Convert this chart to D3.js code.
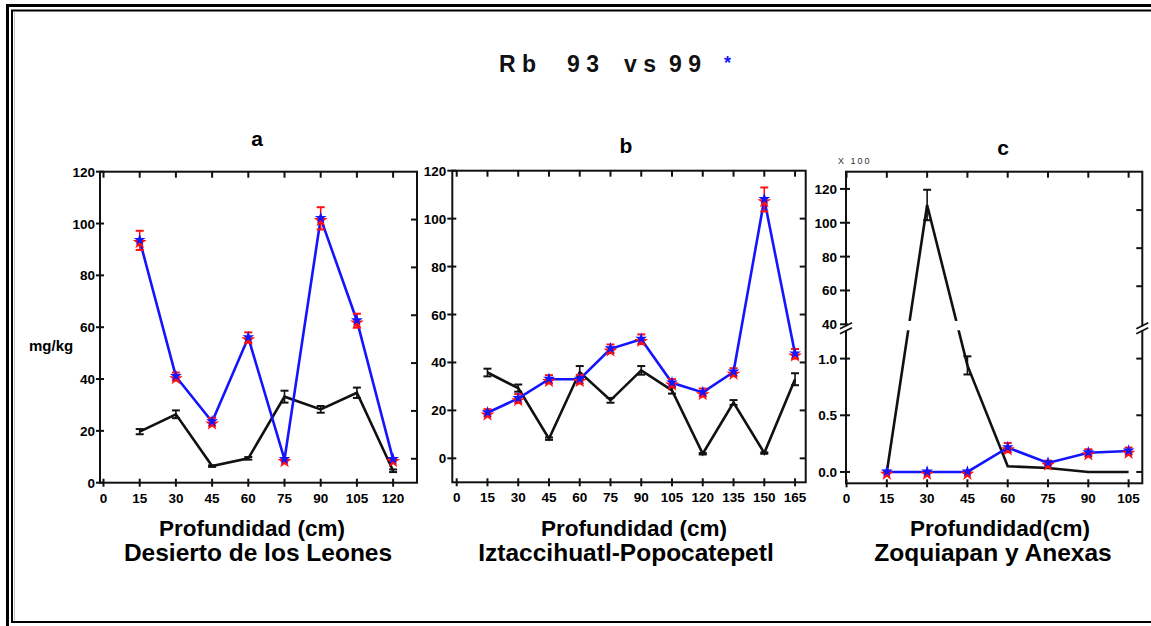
<!DOCTYPE html>
<html><head><meta charset="utf-8">
<script src="https://cdn.jsdelivr.net/npm/d3@7"></script>
<style>
body{margin:0;background:#fff}
svg{display:block}
text{font-family:"Liberation Sans",Arial,Helvetica,sans-serif}
.tick{font-family:"Liberation Sans Narrow","Arial Narrow","Liberation Sans",Arial,sans-serif;font-weight:bold;font-size:13.5px}
</style>
</head><body>
<svg id="fig" width="1151" height="626"></svg>
<script>
// ---- data: Rb (mg/kg) by depth, 1993 (black) and 1999 (blue *) ----
const depthA = [15, 30, 45, 60, 75, 90, 105, 120];
const a99 = [93.5, 41, 23.5, 56, 9, 102, 62.5, 9];
const a99Err = [3.7, 1.5, 1.5, 2, 0.5, 4.3, 2.7, 0.3];
const a93 = [19.7, 26.4, 6.4, 9.4, 33.2, 28.3, 34.7, 4.6];
const a93Err = [1, 1.5, 0.3, 0.5, 2.3, 1.3, 2, 0.5];

const depthB = [15, 30, 45, 60, 75, 90, 105, 120, 135, 150, 165];
const b99 = [19, 25, 33, 33, 45.7, 49.7, 31.5, 27.5, 36, 108, 43.6];
const b99Err = [1.5, 1.8, 1.7, 1.8, 1.8, 2, 1.5, 1.6, 1.6, 5, 2];
const b93 = [35.8, 29.3, 8.2, 36, 24.2, 36.7, 28.3, 1.9, 23.3, 2.2, 33];
const b93Err = [1.6, 1.5, 0.5, 2.5, 1, 1.8, 1.3, 0.3, 1, 0.3, 2.5];

const depthC = [15, 30, 45, 60, 75, 90, 105];
const c99 = [0, 0, 0, 0.215, 0.08, 0.17, 0.185];
const c99Err = [0.01, 0, 0.01, 0.04, 0.02, 0.03, 0.03];
const c93 = [0, 110.5, 0.94, 0.05, 0.035, 0, 0];
const c93Err = [0, 9, 0.08, 0, 0, 0, 0];

const ticksA = [0, 15, 30, 45, 60, 75, 90, 105, 120];
const ticksB = [0, 15, 30, 45, 60, 75, 90, 105, 120, 135, 150, 165];
const ticksC = [0, 15, 30, 45, 60, 75, 90, 105];
const yTicksAB = [0, 20, 40, 60, 80, 100, 120];
const yTicksCUpper = [40, 60, 80, 100, 120];
const yTicksCLower = [0, 0.5, 1.0];
const yTicksCUpperRight = [62.5, 85, 107.5];

const svg = d3.select("#fig");
const BLUE = "#1414ff", RED = "#ff1010", BLACK = "#111";

// double frame
svg.append("rect").attr("x", 7.5).attr("y", 5.5).attr("width", 1160).attr("height", 640)
  .attr("fill", "none").attr("stroke", "#000").attr("stroke-width", 3);
svg.append("rect").attr("x", 12).attr("y", 10.5).attr("width", 1150).attr("height", 611.5)
  .attr("fill", "none").attr("stroke", "#000").attr("stroke-width", 2);
svg.append("line").attr("x1", 14.5).attr("x2", 14.5).attr("y1", 12).attr("y2", 621)
  .attr("stroke", "#c8c8c8").attr("stroke-width", 1);

// title
const title = svg.append("g").attr("font-weight", "bold").attr("font-size", 23).attr("fill", "#111");
[["R b", 499], ["9 3", 567], ["v s", 624], ["9 9", 669]].forEach(([t, x]) => {
  title.append("text").attr("x", x).attr("y", 72).text(t);
});
svg.append("text").attr("x", 724).attr("y", 69).attr("font-size", 18).attr("font-weight", "bold")
  .attr("fill", BLUE).text("*");

svg.append("text").attr("x", 29).attr("y", 351).attr("font-weight", "bold").attr("font-size", 15).text("mg/kg");

function errBars(g, xs, vals, errs, x, y, color, w) {
  vals.forEach((v, i) => {
    const e = errs[i];
    if (!e) return;
    const cx = x(xs[i]);
    const y1 = y(v - e), y2 = y(v + e);
    g.append("line").attr("x1", cx).attr("x2", cx).attr("y1", y1).attr("y2", y2)
      .attr("stroke", color).attr("stroke-width", w);
    [y1, y2].forEach(yy => g.append("line").attr("x1", cx - 4).attr("x2", cx + 4)
      .attr("y1", yy).attr("y2", yy).attr("stroke", color).attr("stroke-width", 2));
  });
}

function panel(cfg) {
  const g = svg.append("g");
  const {L, R, T, B} = cfg;
  const x = d3.scaleLinear().domain(cfg.xDom).range([L, R]);
  const y = cfg.y;

  g.append("rect").attr("x", L).attr("y", T).attr("width", R - L).attr("height", B - T)
    .attr("fill", "none").attr("stroke", BLACK).attr("stroke-width", 2);
  // x ticks (bottom crossing, top inward)
  cfg.xTicks.forEach(t => {
    g.append("line").attr("x1", x(t)).attr("x2", x(t)).attr("y1", B - 4).attr("y2", B + 4)
      .attr("stroke", BLACK).attr("stroke-width", 2);
    g.append("line").attr("x1", x(t)).attr("x2", x(t)).attr("y1", T).attr("y2", T + 6)
      .attr("stroke", BLACK).attr("stroke-width", 2);
    g.append("text").attr("class", "tick").attr("x", x(t)).attr("y", B + 20)
      .attr("text-anchor", "middle").text(t);
  });
  // y ticks left
  cfg.yTicks.forEach(([t, yy, lab]) => {
    g.append("line").attr("x1", L - cfg.tickOut).attr("x2", L + 4).attr("y1", yy).attr("y2", yy)
      .attr("stroke", BLACK).attr("stroke-width", 2);
    g.append("text").attr("class", "tick").attr("x", L - cfg.labGap).attr("y", yy + 5)
      .attr("text-anchor", "end").text(lab);
  });
  // y ticks right (inward)
  cfg.yRight.forEach(yy => {
    g.append("line").attr("x1", R - 6).attr("x2", R).attr("y1", yy).attr("y2", yy)
      .attr("stroke", BLACK).attr("stroke-width", 2);
  });

  const line = d3.line().x((d, i) => x(cfg.depth[i])).y(d => y(d));
  // 1993 series
  g.append("path").attr("d", line(cfg.s93)).attr("fill", "none").attr("stroke", BLACK)
    .attr("stroke-width", 2.6);
  if (cfg.after93) cfg.after93(g);
  errBars(g, cfg.depth, cfg.s93, cfg.e93, x, y, BLACK, 1.6);

  // 1999 series
  g.append("path").attr("d", line(cfg.s99)).attr("fill", "none").attr("stroke", BLUE)
    .attr("stroke-width", 2.6);
  errBars(g, cfg.depth, cfg.s99, cfg.e99, x, y, RED, 1.6);
  const starBig = d3.symbol(d3.symbolStar, 60)();
  const starSmall = d3.symbol(d3.symbolStar, 44)();
  cfg.s99.forEach((v, i) => {
    g.append("path").attr("d", starBig)
      .attr("transform", `translate(${x(cfg.depth[i])},${y(v) + 2})`).attr("fill", RED);
    g.append("path").attr("d", starSmall)
      .attr("transform", `translate(${x(cfg.depth[i])},${y(v) - 0.5})`).attr("fill", BLUE);
  });

  if (cfg.extra) cfg.extra(g);

  // labels
  g.append("text").attr("x", cfg.titleX).attr("y", cfg.titleY).attr("text-anchor", "middle")
    .attr("font-weight", "bold").attr("font-size", 21).text(cfg.title);
  g.append("text").attr("x", cfg.lab1X).attr("y", 536).attr("text-anchor", "middle")
    .attr("font-weight", "bold").attr("font-size", 22.5).text(cfg.lab1);
  g.append("text").attr("x", cfg.lab2X).attr("y", 561).attr("text-anchor", "middle")
    .attr("font-weight", "bold").attr("font-size", 24.5).text(cfg.lab2);
}

// panel a
{
  const yA = d3.scaleLinear().domain([0, 120]).range([482.7, 171.7]);
  const yRightA = d3.scaleLinear().domain([-10, 120]).range([482.7, 171.7]);
  panel({
    L: 100, R: 417, T: 171.7, B: 482.7, xDom: [-1.45, 129.9], y: yA,
    xTicks: ticksA, yTicks: yTicksAB.map(t => [t, yA(t), t]),
    yRight: [0, 20, 40, 60, 80, 100].map(t => yRightA(t)),
    tickOut: 4, labGap: 5,
    depth: depthA, s93: a93, e93: a93Err, s99: a99, e99: a99Err,
    title: "a", titleX: 257, titleY: 146,
    lab1: "Profundidad (cm)", lab1X: 252, lab2: "Desierto de los Leones", lab2X: 258
  });
}

// panel b
{
  const yB = d3.scaleLinear().domain([-10, 120]).range([482.3, 170.7]);
  panel({
    L: 452.3, R: 805.7, T: 170.7, B: 482.3, xDom: [-2.15, 170.2], y: yB,
    xTicks: ticksB, yTicks: yTicksAB.map(t => [t, yB(t), t]),
    yRight: yTicksAB.slice(0, 6).map(t => yB(t)),
    tickOut: 5, labGap: 6,
    depth: depthB, s93: b93, e93: b93Err, s99: b99, e99: b99Err,
    title: "b", titleX: 626, titleY: 153,
    lab1: "Profundidad (cm)", lab1X: 634, lab2: "Iztaccihuatl-Popocatepetl", lab2X: 626
  });
}

// panel c (broken axis: lower 0–1.2, upper 40–130, ×100)
{
  const upper = d3.scaleLinear().domain([40, 130]).range([324.3, 172]);
  const lower = d3.scaleLinear().domain([-0.1, 1.0]).range([483.3, 358.6]);
  const yC = v => (v >= 30 ? upper(v) : lower(v));
  const L = 846, R = 1142.3;
  const fmt = d3.format(".1f");
  panel({
    L, R, T: 171.7, B: 483.3, xDom: [-0.2, 110.1], y: yC,
    xTicks: ticksC,
    yTicks: yTicksCUpper.map(t => [t, upper(t), t]).concat(yTicksCLower.map(t => [t, lower(t), fmt(t)])),
    yRight: yTicksCUpperRight.map(t => upper(t)).concat(yTicksCLower.map(t => lower(t))),
    tickOut: 6, labGap: 9,
    depth: depthC, s93: c93, e93: c93Err, s99: c99, e99: c99Err,
    title: "c", titleX: 1003, titleY: 155,
    lab1: "Profundidad(cm)", lab1X: 1000, lab2: "Zoquiapan y Anexas", lab2X: 993,
    after93: (g) => {
      // gap in the lines where the axis is broken
      const gTop = upper(42), gBot = lower(1.25);
      g.append("rect").attr("x", L + 2).attr("y", gTop).attr("width", R - L - 4)
        .attr("height", gBot - gTop).attr("fill", "#fff");
    },
    extra: (g) => {
      const yb = (upper(40) + lower(1.25)) / 2 + 1;
      [L, R].forEach(ax => {
        g.append("rect").attr("x", ax - 2).attr("y", yb - 2).attr("width", 4).attr("height", 4).attr("fill", "#fff");
        [-2.5, 2.5].forEach(dy => g.append("line")
          .attr("x1", ax - 6).attr("x2", ax + 6).attr("y1", yb + dy + 3).attr("y2", yb + dy - 3)
          .attr("stroke", BLACK).attr("stroke-width", 1.6));
      });
    }
  });
  svg.append("text").attr("x", 838).attr("y", 164).attr("font-size", 9).attr("letter-spacing", 2)
    .attr("fill", "#333").text("X 100");
}
</script>
</body></html>
